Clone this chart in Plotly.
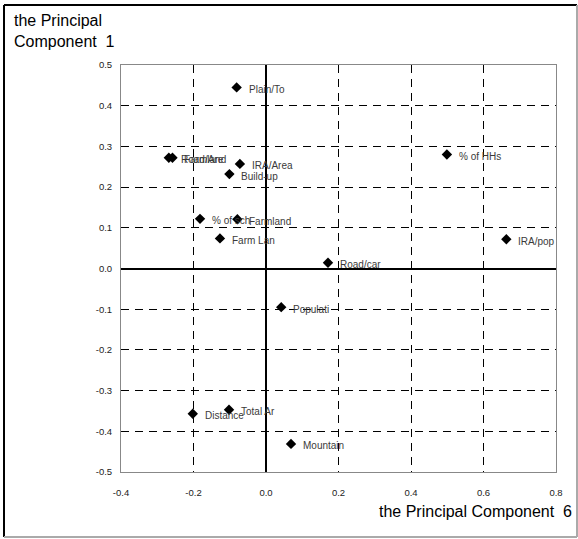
import plotly.graph_objects as go

# Loadings: principal component 6 (x) vs principal component 1 (y)
labels = ["Plain/To", "Road/Are", "Farmland", "IRA/Area", "Build-up", "% of sch",
          "Farmland", "Farm Lan", "% of HHs", "IRA/pop", "Road/car", "Populati",
          "Distance", "Total Ar", "Mountain"]
pc6 = [-0.081, -0.268, -0.258, -0.072, -0.101, -0.182,
       -0.079, -0.127, 0.499, 0.663, 0.171, 0.042,
       -0.202, -0.102, 0.069]
pc1 = [0.445, 0.272, 0.272, 0.257, 0.232, 0.122,
       0.121, 0.074, 0.280, 0.072, 0.014, -0.095,
       -0.357, -0.347, -0.431]

x_ticks = [-0.4, -0.2, 0.0, 0.2, 0.4, 0.6, 0.8]
x_tick_text = ["-0.4", "-0.2", "0.0", "0.2", "0.4", "0.6", "0.8"]
y_ticks = [-0.5, -0.4, -0.3, -0.2, -0.1, 0.0, 0.1, 0.2, 0.3, 0.4, 0.5]
y_tick_text = ["-0.5", "-0.4", "-0.3", "-0.2", "-0.1", "0.0",
               "0.1", "0.2", "0.3", "0.4", "0.5"]

FONT = "Arial, Liberation Sans, sans-serif"
W, H = 578, 539
ML, MR, MT, MB = 121, 22, 65, 67
PW, PH = W - ML - MR, H - MT - MB


def px_x(p):
    return (p - ML) / PW


def px_y(p):
    return (H - MB - p) / PH


fig = go.Figure()
fig.add_trace(go.Scatter(
    x=pc6, y=pc1, mode="markers",
    marker=dict(symbol="diamond", size=8, color="black"),
    cliponaxis=False, showlegend=False, hoverinfo="text", text=labels,
))

# Point labels, set just right of each marker
for lx, ly, lt in zip(pc6, pc1, labels):
    fig.add_annotation(x=lx, y=ly, text=lt, showarrow=False,
                       xanchor="left", yanchor="middle", xshift=10, yshift=-2,
                       font=dict(family=FONT, size=10, color="#3a3a3a"))

axis_common = dict(
    showline=True, mirror=True, linecolor="#888888", linewidth=1,
    showgrid=True, gridcolor="black", gridwidth=1, griddash="8px,6px",
    zeroline=True, zerolinecolor="black", zerolinewidth=1.5,
    ticks="", tickfont=dict(family=FONT, size=9.5, color="#222222"),
)

fig.update_xaxes(range=[-0.4, 0.8], tickvals=x_ticks, ticktext=x_tick_text,
                 ticklabelstandoff=12, **axis_common)
fig.update_yaxes(range=[-0.5, 0.5], tickvals=y_ticks, ticktext=y_tick_text,
                 ticklabelstandoff=6, **axis_common)

# Axis titles
fig.add_annotation(xref="paper", yref="paper", x=px_x(12), y=px_y(10),
                   xanchor="left", yanchor="top", align="left", showarrow=False,
                   text="the Principal<br>Component  1",
                   font=dict(family=FONT, size=16, color="black"))
fig.add_annotation(xref="paper", yref="paper", x=px_x(574), y=px_y(511),
                   xanchor="right", yanchor="middle", showarrow=False,
                   text="the Principal Component  6",
                   font=dict(family=FONT, size=16, color="black"))

# Outer frame around the chart
x0, x1 = px_x(4), px_x(577)
y0, y1 = px_y(537), px_y(5)
for (ax0, ay0, ax1, ay1, col) in [
    (x0, y1, x1, y1, "black"), (x0, y0, x0, y1, "black"),
    (x1, y0, x1, y1, "#aaaaaa"), (x0, y0, x1, y0, "#aaaaaa")]:
    fig.add_shape(type="line", xref="paper", yref="paper",
                  x0=ax0, y0=ay0, x1=ax1, y1=ay1,
                  line=dict(color=col, width=2))

fig.update_layout(
    width=W, height=H, autosize=False,
    margin=dict(l=ML, r=MR, t=MT, b=MB),
    paper_bgcolor="white", plot_bgcolor="white",
    font=dict(family=FONT),
)

fig.write_html("out.html")
